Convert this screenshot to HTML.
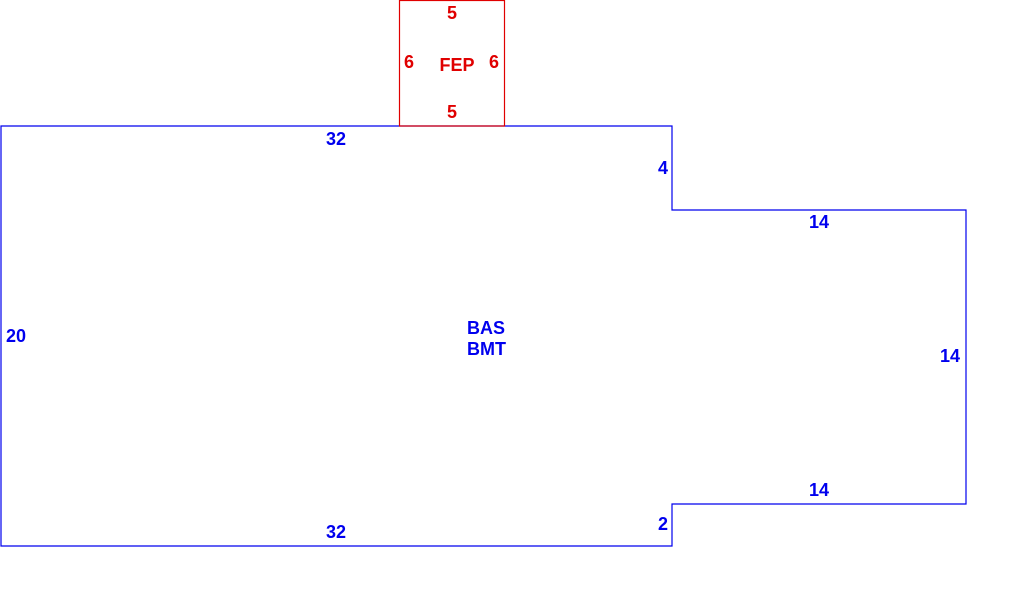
<!DOCTYPE html>
<html><head><meta charset="utf-8"><style>
html,body{margin:0;padding:0;background:#fff;width:1010px;height:598px;overflow:hidden}
text{font-family:"Liberation Sans",Arial,sans-serif;font-weight:bold;font-size:18px}
</style></head><body>
<svg width="1010" height="598" xmlns="http://www.w3.org/2000/svg">
<polygon points="1,126 672,126 672,210 966,210 966,504 672,504 672,546 1,546" fill="none" stroke="#0000ee" stroke-width="1.2"/>
<rect x="399.5" y="0.5" width="105" height="125.5" fill="none" stroke="#e00000" stroke-width="1.2"/>
<g fill="#e00000" text-anchor="middle">
<text x="452" y="19">5</text>
<text x="452" y="118">5</text>
<text x="409" y="68">6</text>
<text x="494" y="68">6</text>
<text x="457" y="71">FEP</text>
</g>
<g fill="#0000ee" text-anchor="middle">
<text x="336" y="145">32</text>
<text x="336" y="538">32</text>
<text x="663" y="174">4</text>
<text x="663" y="530">2</text>
<text x="819" y="228">14</text>
<text x="819" y="496">14</text>
<text x="950" y="362">14</text>
<text x="16" y="342">20</text>
</g>
<g fill="#0000ee">
<text x="467" y="334">BAS</text>
<text x="467" y="355">BMT</text>
</g>
</svg>
</body></html>
